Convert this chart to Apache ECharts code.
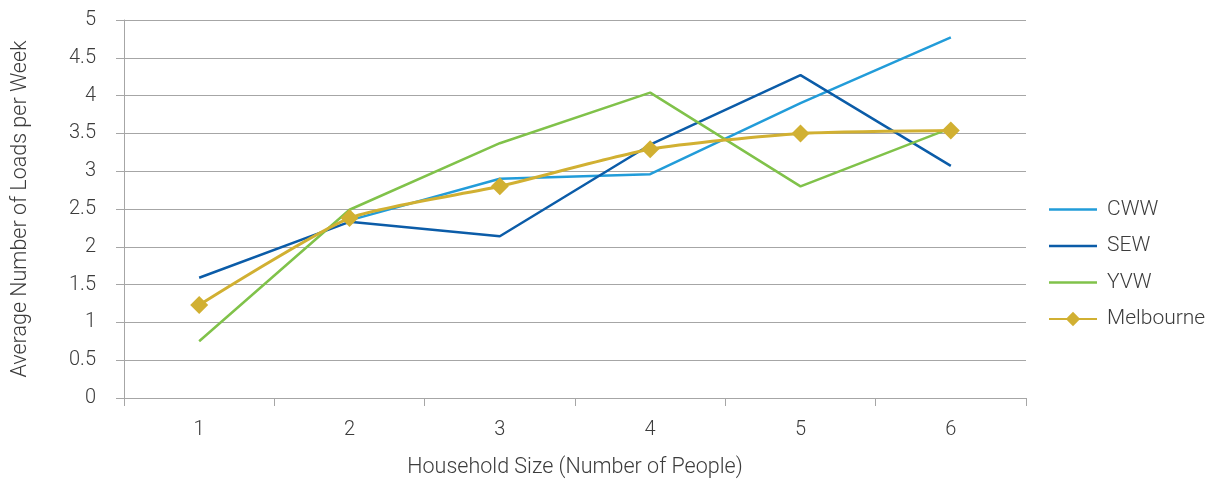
<!DOCTYPE html>
<html>
<head>
<meta charset="utf-8">
<script src="https://cdn.jsdelivr.net/npm/echarts@6/dist/echarts.min.js"></script>
<style>
  html, body { margin: 0; padding: 0; background: #fff; }
  #chart { width: 1208px; height: 479px; }
</style>
</head>
<body>
<div id="chart"></div>
<script>
// Household size categories and weekly laundry load averages by water retailer
const householdSizes = ['1', '2', '3', '4', '5', '6'];
const cww = [null, 2.35, 2.90, 2.96, 3.90, 4.77];
const sew = [1.59, 2.33, 2.14, 3.35, 4.27, 3.07];
const yvw = [0.75, 2.49, 3.37, 4.04, 2.80, 3.57];
const melbourne = [1.23, 2.38, 2.80, 3.29, 3.50, 3.54];

const font = 'Roboto';
const textColor = '#3c3c3c';
const axisColor = '#a6a6a6';
const colors = { CWW: '#229cd9', SEW: '#0b5ca8', YVW: '#80c24a', Melbourne: '#d1b032' };

// Plain line swatch for legend entries without markers
const lineIcon = 'path://M0,0 L48,0 L48,2.5 L0,2.5 Z';

const chart = echarts.init(document.getElementById('chart'), null, { renderer: 'canvas' });
chart.setOption({
  animation: false,
  backgroundColor: '#ffffff',
  grid: { left: 124, right: 182, top: 20, bottom: 81, containLabel: false, outerBoundsMode: 'none' },
  legend: {
    orient: 'vertical',
    left: 1043,
    top: 194,
    padding: 5,
    itemWidth: 48,
    itemHeight: 18,
    itemGap: 15.5,
    textStyle: { fontFamily: font, fontWeight: 300, fontSize: 21, lineHeight: 20, color: textColor, padding: [0, 0, 0, 5] },
    data: [
      { name: 'CWW', icon: lineIcon },
      { name: 'SEW', icon: lineIcon },
      { name: 'YVW', icon: lineIcon },
      { name: 'Melbourne' }
    ]
  },
  xAxis: {
    type: 'category',
    data: householdSizes,
    boundaryGap: true,
    name: 'Household Size (Number of People)',
    nameLocation: 'middle',
    nameGap: 59,
    nameTextStyle: { fontFamily: font, fontWeight: 300, fontSize: 21.5, color: textColor },
    axisLine: { lineStyle: { color: axisColor, width: 1 } },
    axisTick: { show: true, length: 8, lineStyle: { color: axisColor } },
    axisLabel: { fontFamily: font, fontWeight: 300, fontSize: 20, color: textColor, margin: 22 },
    splitLine: { show: false }
  },
  yAxis: [
    {
      type: 'value',
      min: 0,
      max: 5,
      interval: 0.5,
      name: 'Average Number of Loads per Week',
      nameLocation: 'middle',
      nameGap: 92,
      nameTextStyle: { fontFamily: font, fontWeight: 300, fontSize: 21.5, color: textColor },
      axisLine: { show: true, lineStyle: { color: axisColor, width: 1 } },
      axisTick: { show: true, length: 8, lineStyle: { color: axisColor } },
      axisLabel: { fontFamily: font, fontWeight: 300, fontSize: 20, color: textColor, margin: 28 },
      splitLine: { show: true, lineStyle: { color: axisColor, width: 1 } }
    },
    {
      // inner half of the crossing tick marks on the value axis
      type: 'value',
      position: 'left',
      min: 0,
      max: 5,
      interval: 0.5,
      axisLine: { show: false },
      axisTick: { show: true, inside: true, length: 6, lineStyle: { color: axisColor } },
      axisLabel: { show: false },
      splitLine: { show: false }
    }
  ],
  series: [
    {
      name: 'CWW', type: 'line', data: cww, symbol: 'none', connectNulls: false,
      lineStyle: { color: colors.CWW, width: 2.5 }, itemStyle: { color: colors.CWW }
    },
    {
      name: 'SEW', type: 'line', data: sew, symbol: 'none',
      lineStyle: { color: colors.SEW, width: 2.5 }, itemStyle: { color: colors.SEW }
    },
    {
      name: 'YVW', type: 'line', data: yvw, symbol: 'none',
      lineStyle: { color: colors.YVW, width: 2.5 }, itemStyle: { color: colors.YVW }
    },
    {
      name: 'Melbourne', type: 'line', data: melbourne, smooth: 0.2,
      symbol: 'diamond', symbolSize: 18,
      lineStyle: { color: colors.Melbourne, width: 3 }, itemStyle: { color: colors.Melbourne }
    }
  ]
});
</script>
</body>
</html>
